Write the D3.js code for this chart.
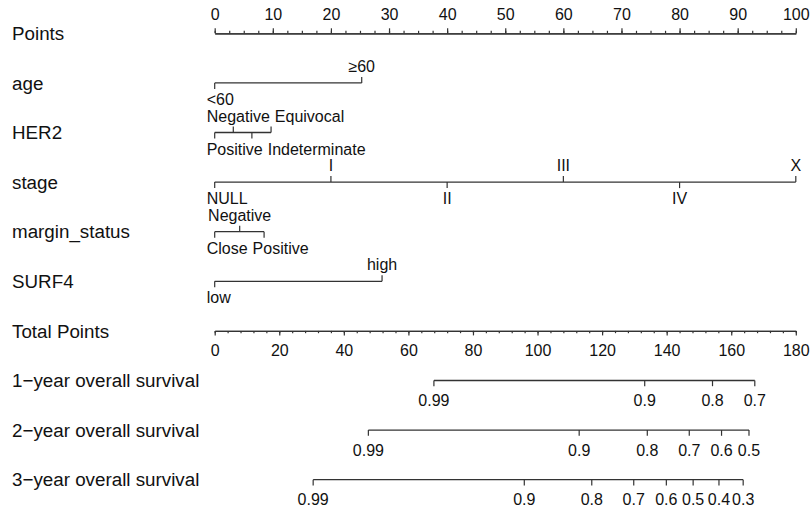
<!DOCTYPE html>
<html>
<head>
<meta charset="utf-8">
<script src="https://cdn.jsdelivr.net/npm/d3@7"></script>
<style>
  body { margin: 0; background: #fff; }
  text { font-family: "Liberation Sans", Arial, Helvetica, sans-serif; fill: #111; }
</style>
</head>
<body>
<div id="nomogram"></div>
<script>
// row labels
var varNames = ["Points", "age", "HER2", "stage", "margin_status", "SURF4",
  "Total Points", "1\u2212year overall survival", "2\u2212year overall survival", "3\u2212year overall survival"]

// points scale ticks
var pointTicks = [0, 10, 20, 30, 40, 50, 60, 70, 80, 90, 100]
var totalTicks = [0, 20, 40, 60, 80, 100, 120, 140, 160, 180]

// predictors: levels and their points
var ageLevels = ["<60", "\u226560"]
var agePoints = [0, 25.3]
var her2Levels = ["Positive", "Negative", "Indeterminate", "Equivocal"]
var her2Points = [0, 3.2, 6.4, 9.7]
var stageLevels = ["NULL", "I", "II", "III", "IV", "X"]
var stagePoints = [0, 20, 40, 60, 80, 100]
var marginLevels = ["Close", "Negative", "Positive"]
var marginPoints = [0, 4.3, 8.5]
var surf4Levels = ["low", "high"]
var surf4Points = [0, 28.8]

// survival probabilities vs total points
var surv1Labels = ["0.99", "0.9", "0.8", "0.7"]
var surv1Total = [67.9, 133.2, 154.2, 167.3]
var surv2Labels = ["0.99", "0.9", "0.8", "0.7", "0.6", "0.5"]
var surv2Total = [47.6, 112.9, 134.0, 147.0, 157.0, 165.5]
var surv3Labels = ["0.99", "0.9", "0.8", "0.7", "0.6", "0.5", "0.4", "0.3"]
var surv3Total = [30.5, 95.9, 116.8, 129.8, 139.9, 148.2, 156.2, 163.7]

var width = 812, height = 514
var left = 214.7, right = 795.8
var lineColor = "#333", smallFont = 16, bigFont = 18.8

var svg = d3.select("#nomogram").append("svg")
  .attr("width", width).attr("height", height)

var x = d3.scaleLinear().domain([0, 100]).range([left, right])
var xt = d3.scaleLinear().domain([0, 180]).range([left, right])
var rowY = d3.scaleLinear().domain([0, 9]).range([33.3, 479.7])

// variable names on the left
svg.selectAll("text.var").data(varNames).enter().append("text")
  .attr("class", "var")
  .attr("x", 12)
  .attr("y", function (d, i) { return rowY(i) + 6.7 })
  .style("font-size", bigFont + "px")
  .text(function (d) { return d })

function styleAxis(g) {
  g.select(".domain").attr("stroke", lineColor).attr("stroke-width", 1.3)
  g.selectAll(".tick line").attr("stroke", lineColor).attr("stroke-width", 1.2)
  g.selectAll(".tick text").style("font-size", smallFont + "px")
    .attr("font-family", null).attr("fill", "#111")
}

// Points axis (ticks up)
var pg = svg.append("g").attr("transform", "translate(0," + rowY(0) + ")")
pg.append("g")
  .call(d3.axisTop(x).tickValues(d3.range(0, 100.01, 2.5)).tickSize(2.5).tickSizeOuter(0).tickFormat(""))
  .call(styleAxis)
pg.append("g")
  .call(d3.axisTop(x).tickValues(pointTicks).tickSize(5).tickSizeOuter(0).tickPadding(8.5))
  .call(styleAxis)
pg.selectAll("text").attr("dy", "0em").attr("fill", "#111")

// Total Points axis (ticks down)
var tg = svg.append("g").attr("transform", "translate(0," + rowY(6) + ")")
tg.append("g")
  .call(d3.axisBottom(xt).tickValues(d3.range(0, 180.01, 4)).tickSize(2.3).tickSizeOuter(0).tickFormat(""))
  .call(styleAxis)
tg.append("g")
  .call(d3.axisBottom(xt).tickValues(totalTicks).tickSize(4.5).tickSizeOuter(0).tickPadding(9.5))
  .call(styleAxis)

// labels on one side pushed right so they do not overlap
function placeSide(g, items, y) {
  var prevRight = -Infinity
  items.forEach(function (it) {
    var t = g.append("text").attr("y", y).style("font-size", smallFont + "px").text(it.label)
    var w = t.node().getComputedTextLength()
    var lx = Math.max(it.x - w / 2, left - 8, prevRight + 5)
    t.attr("x", lx)
    prevRight = lx + w
  })
}

// categorical predictor axis
function catAxis(row, levels, pts) {
  var y0 = rowY(row)
  var g = svg.append("g")
  g.append("line")
    .attr("x1", x(d3.min(pts))).attr("x2", x(d3.max(pts)))
    .attr("y1", y0).attr("y2", y0)
    .attr("stroke", lineColor).attr("stroke-width", 1.3)
  var items = levels.map(function (l, i) { return { label: l, x: x(pts[i]), up: i % 2 === 1 } })
  g.selectAll("line.tick").data(items).enter().append("line")
    .attr("x1", function (d) { return d.x }).attr("x2", function (d) { return d.x })
    .attr("y1", y0).attr("y2", function (d) { return d.up ? y0 - 6 : y0 + 6 })
    .attr("stroke", lineColor).attr("stroke-width", 1.2)
  placeSide(g, items.filter(function (d) { return d.up }), y0 - 11)
  placeSide(g, items.filter(function (d) { return !d.up }), y0 + 22)
}

catAxis(1, ageLevels, agePoints)
catAxis(2, her2Levels, her2Points)
catAxis(3, stageLevels, stagePoints)
catAxis(4, marginLevels, marginPoints)
catAxis(5, surf4Levels, surf4Points)

// survival axes, ticks down and labels centred
function survAxis(row, labels, tot) {
  var y0 = rowY(row)
  var g = svg.append("g")
  g.append("line")
    .attr("x1", xt(d3.min(tot))).attr("x2", xt(d3.max(tot)))
    .attr("y1", y0).attr("y2", y0)
    .attr("stroke", lineColor).attr("stroke-width", 1.3)
  g.selectAll("line.tick").data(tot).enter().append("line")
    .attr("x1", function (d) { return xt(d) }).attr("x2", function (d) { return xt(d) })
    .attr("y1", y0).attr("y2", y0 + 5.7)
    .attr("stroke", lineColor).attr("stroke-width", 1.2)
  g.selectAll("text").data(labels).enter().append("text")
    .attr("x", function (d, i) { return xt(tot[i]) })
    .attr("y", y0 + 25.5)
    .attr("text-anchor", "middle")
    .style("font-size", smallFont + "px")
    .text(function (d) { return d })
}

survAxis(7, surv1Labels, surv1Total)
survAxis(8, surv2Labels, surv2Total)
survAxis(9, surv3Labels, surv3Total)
</script>
</body>
</html>
